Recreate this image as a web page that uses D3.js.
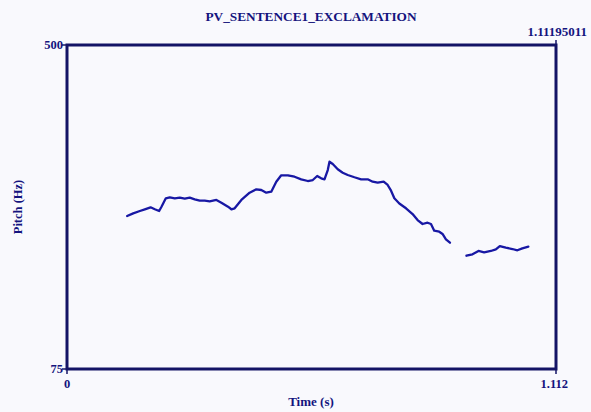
<!DOCTYPE html>
<html><head><meta charset="utf-8">
<script src="https://cdn.jsdelivr.net/npm/d3@7"></script>
<style>html,body{margin:0;padding:0;background:#f9f9fd;}svg{display:block;}</style>
</head><body>
<script>
const title = "PV_SENTENCE1_EXCLAMATION";
const xDomain = [0, 1.112];
const yDomain = [75, 500];
const xTickLabels = ["0", "1.112"];
const yTickLabels = ["75", "500"];
const endTimeLabel = "1.11195011";
const xLabel = "Time (s)";
const yLabel = "Pitch (Hz)";

const seg1Time = [0.1368,0.1505,0.1657,0.1770,0.1900,0.1997,0.2095,0.2149,0.2247,0.2337,0.2451,0.2564,0.2678,0.2791,0.2905,0.3018,0.3132,0.3245,0.3397,0.3511,0.3661,0.3738,0.3813,0.3965,0.4153,0.4305,0.4418,0.4532,0.4645,0.4759,0.4872,0.5022,0.5174,0.5326,0.5476,0.5590,0.5689,0.5780,0.5855,0.5930,0.5969,0.6043,0.6157,0.6270,0.6384,0.6536,0.6688,0.6838,0.6951,0.7065,0.7201,0.7292,0.7369,0.7444,0.7557,0.7709,0.7859,0.7972,0.8086,0.8199,0.8277,0.8351,0.8465,0.8540,0.8617,0.8708];
const seg1Pitch = [275.7,279.2,282.3,284.5,287.1,284.5,282.3,287.9,298.9,300.2,298.9,299.7,298.4,299.7,297.6,295.8,295.8,295.0,296.7,293.1,287.9,284.5,285.8,296.7,306.3,310.7,309.8,306.3,307.6,320.7,329.1,329.1,327.2,323.8,321.6,322.9,328.2,325.1,323.8,336.0,346.9,343.9,337.0,332.5,329.5,326.5,323.8,323.8,320.7,319.4,320.7,316.4,308.9,298.9,292.1,285.8,278.3,270.4,265.2,266.9,265.2,256.4,255.1,252.1,245.1,240.7];
const seg2Time = [0.9084,0.9221,0.9357,0.9486,0.9638,0.9752,0.9842,0.9978,1.0128,1.0242,1.0355,1.0492];
const seg2Pitch = [223.6,225.5,229.8,228.1,229.8,232.0,236.3,234.1,232.4,230.7,233.3,235.4];

const W = 591, H = 412;
const mLeft = 67, mRight = 556, mTop = 45, mBottom = 369;
const textColor = "#14147e", frameColor = "#141466", lineColor = "#1818a4";
const font = "'Liberation Serif', 'Times New Roman', serif";

const svg = d3.select("body").append("svg").attr("width", W).attr("height", H);
svg.append("rect").attr("width", W).attr("height", H).attr("fill", "#f9f9fd");

const x = d3.scaleLinear().domain(xDomain).range([mLeft, mRight]);
const y = d3.scaleLinear().domain(yDomain).range([mBottom, mTop]);

const line = d3.line().x(d => x(d[0])).y(d => y(d[1])).curve(d3.curveLinear);
[[seg1Time, seg1Pitch], [seg2Time, seg2Pitch]].forEach(([t, p]) => {
  svg.append("path").datum(t.map((v, i) => [v, p[i]]))
    .attr("d", line).attr("fill", "none").attr("stroke", lineColor)
    .attr("stroke-width", 2.3).attr("stroke-linejoin", "round").attr("stroke-linecap", "round");
});

// frame
svg.append("rect").attr("x", x(xDomain[0])).attr("y", y(yDomain[1]))
  .attr("width", x(xDomain[1]) - x(xDomain[0])).attr("height", y(yDomain[0]) - y(yDomain[1]))
  .attr("fill", "none").attr("stroke", frameColor).attr("stroke-width", 3);

// ticks
const tk = svg.append("g").attr("stroke", frameColor).attr("stroke-width", 1.5);
yDomain.forEach(v => tk.append("line").attr("x1", mLeft - 5).attr("x2", mLeft).attr("y1", y(v)).attr("y2", y(v)));
xDomain.forEach(v => tk.append("line").attr("x1", x(v)).attr("x2", x(v)).attr("y1", mBottom).attr("y2", mBottom + 5));
tk.append("line").attr("x1", mRight).attr("x2", mRight).attr("y1", mTop - 5).attr("y2", mTop);

const txt = (s, tx, ty, anchor, size, extra) => {
  const e = svg.append("text").attr("x", tx).attr("y", ty).attr("text-anchor", anchor)
    .attr("font-family", font).attr("font-weight", "bold").attr("font-size", size)
    .attr("fill", textColor).text(s);
  if (extra) extra(e);
  return e;
};

txt(title, 311, 21, "middle", 13.3);
txt(endTimeLabel, 587, 36, "end", 13);
txt(yTickLabels[1], mLeft - 4, y(yDomain[1]) + 4, "end", 12.5);
txt(yTickLabels[0], mLeft - 4, y(yDomain[0]) + 4, "end", 12.5);
txt(xTickLabels[0], x(xDomain[0]), mBottom + 19, "middle", 12.5);
txt(xTickLabels[1], 568, mBottom + 19, "end", 12.5);
txt(xLabel, 311, 406, "middle", 13);
txt(yLabel, 0, 0, "middle", 12.5, e => e.attr("transform", "translate(22,207) rotate(-90)"));
</script>
</body></html>
